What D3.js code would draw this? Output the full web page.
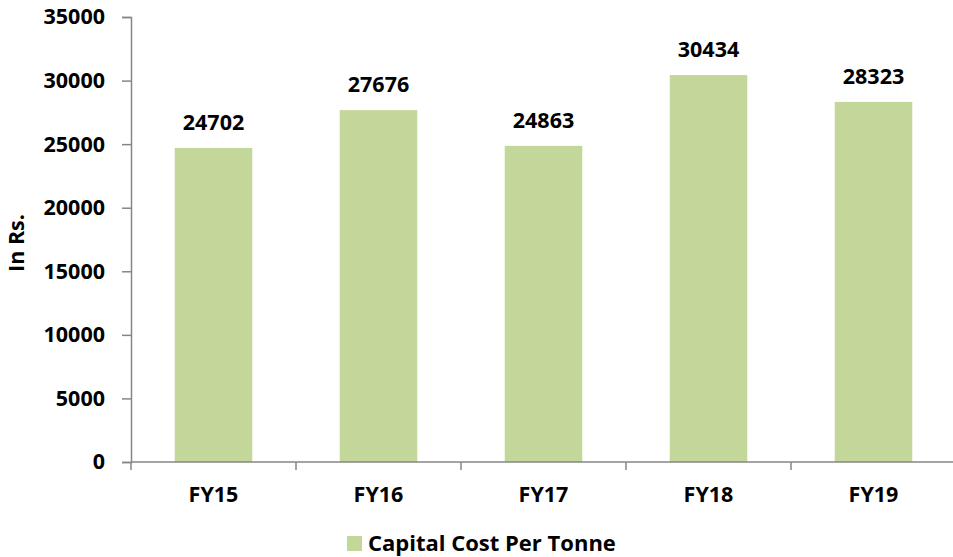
<!DOCTYPE html>
<html>
<head>
<meta charset="utf-8">
<script src="https://cdn.jsdelivr.net/npm/d3@7"></script>
<style>
  body { margin: 0; background: #fff; }
  svg text { font-family: "Open Sans", Lato, sans-serif; font-weight: 700; fill: #000; }
</style>
</head>
<body>
<svg id="chart" width="953" height="557"></svg>
<script>
var categories = ['FY15', 'FY16', 'FY17', 'FY18', 'FY19'];
var values = [24702, 27676, 24863, 30434, 28323];
var yTicks = [0, 5000, 10000, 15000, 20000, 25000, 30000, 35000];
var seriesName = 'Capital Cost Per Tonne';

var svg = d3.select('#chart');
var plotLeft = 131, plotRight = 956, plotTop = 17, plotBottom = 462;

var x = d3.scaleBand().domain(categories).range([plotLeft, plotRight]).paddingInner(0.53).paddingOuter(0.265);
var y = d3.scaleLinear().domain([0, 35000]).range([plotBottom, plotTop]);

// bars
svg.selectAll('rect.bar').data(values).enter().append('rect')
  .attr('class', 'bar')
  .attr('x', function(d, i) { return x(categories[i]); })
  .attr('y', function(d) { return y(d); })
  .attr('width', x.bandwidth())
  .attr('height', function(d) { return plotBottom - y(d); })
  .attr('fill', '#c4d79b');

// value labels
svg.selectAll('text.val').data(values).enter().append('text')
  .attr('class', 'val')
  .attr('x', function(d, i) { return x(categories[i]) + x.bandwidth() / 2; })
  .attr('y', function(d) { return y(d) - 18; })
  .attr('text-anchor', 'middle')
  .style('font-size', '21.5px')
  .text(function(d) { return d; });

// y axis
var yAxis = svg.append('g').attr('transform', 'translate(' + plotLeft + ',0)')
  .call(d3.axisLeft(y).tickValues(yTicks).tickSize(9).tickPadding(17).tickFormat(d3.format('d')));
yAxis.selectAll('text').style('font-size', '21.5px');
yAxis.select('.domain').attr('stroke', '#868686').attr('stroke-width', 1.5);
yAxis.selectAll('.tick line').attr('stroke', '#868686').attr('stroke-width', 1.5);

// x axis: ticks at category boundaries
var xAxis = svg.append('g').attr('transform', 'translate(0,' + plotBottom + ')');
xAxis.append('line').attr('x1', plotLeft).attr('x2', plotRight).attr('stroke', '#868686').attr('stroke-width', 1.5);
var step = x.step();
var bounds = d3.range(categories.length + 1).map(function(i) { return plotLeft + i * step; });
xAxis.selectAll('line.tk').data(bounds).enter().append('line')
  .attr('class', 'tk')
  .attr('x1', function(d) { return d; }).attr('x2', function(d) { return d; })
  .attr('y1', 0).attr('y2', 8)
  .attr('stroke', '#868686').attr('stroke-width', 1.5);
xAxis.selectAll('text').data(categories).enter().append('text')
  .attr('x', function(d) { return x(d) + x.bandwidth() / 2; })
  .attr('y', 40)
  .attr('text-anchor', 'middle')
  .style('font-size', '21.5px')
  .text(function(d) { return d; });

// y title
svg.append('text')
  .attr('transform', 'translate(24,243) rotate(-90)')
  .attr('text-anchor', 'middle')
  .style('font-size', '21.5px')
  .text('In Rs.');

// legend
svg.append('rect').attr('x', 347).attr('y', 536).attr('width', 15).attr('height', 15).attr('fill', '#c4d79b');
svg.append('text').attr('x', 368).attr('y', 551).style('font-size', '22px').text(seriesName);
</script>
</body>
</html>
